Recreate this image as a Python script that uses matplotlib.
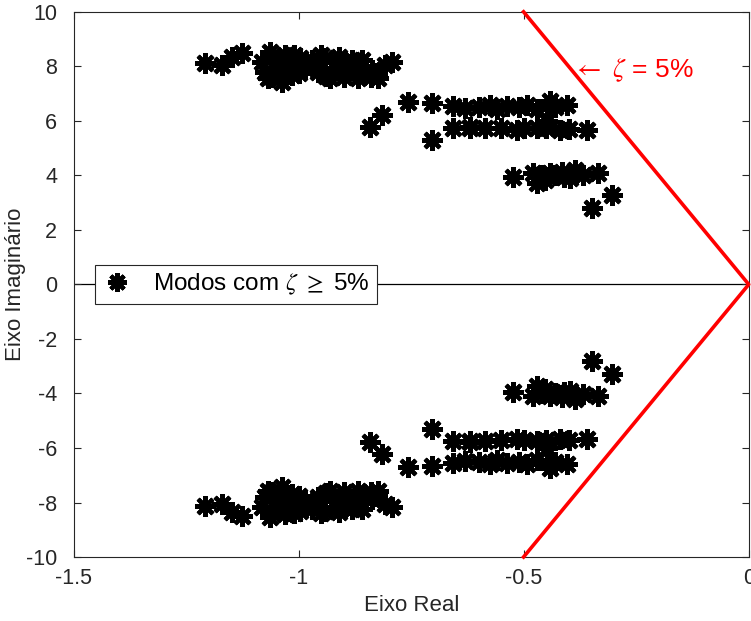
import numpy as np
import matplotlib
matplotlib.use("Agg")
import matplotlib.pyplot as plt

plt.rcParams['font.family'] = ['Liberation Sans', 'DejaVu Sans']
plt.rcParams['mathtext.fontset'] = 'stix'

# modos (parte superior do plano; os conjugados sao desenhados espelhados)
modos_real = [-1.209, -1.171, -1.149, -1.127,
              -1.082, -1.064, -1.047, -1.031, -1.016, -0.998, -0.987, -1.069,
              -1.038, -0.971, -0.958, -0.942, -0.931, -0.913, -0.898, -0.882,
              -0.869, -0.853, -0.838, -0.809, -0.793, -0.824,
              -1.075, -1.050, -1.020, -1.000, -1.060, -1.030, -1.010, -0.990,
              -0.960, -0.940, -0.920, -0.900, -0.890, -0.870, -0.860, -0.840,
              -0.950, -0.910,
              -0.842, -0.816, -0.758, -0.704, -0.704,
              -0.658, -0.658, -0.631, -0.620, -0.576, -0.587, -0.538, -0.516,
              -0.493, -0.471, -0.442, -0.449, -0.404, -0.420, -0.360,
              -0.600, -0.560, -0.510, -0.470, -0.430, -0.620, -0.550, -0.500,
              -0.450, -0.400,
              -0.524, -0.480, -0.471, -0.453, -0.442, -0.416, -0.398, -0.387,
              -0.369, -0.336, -0.304, -0.349, -0.460, -0.430, -0.410]
modos_imag = [8.13, 8.06, 8.35, 8.50,
              8.17, 8.53, 7.87, 8.42, 7.69, 8.31, 7.94, 7.58,
              7.43, 8.24, 7.80, 8.31, 7.58, 8.17, 7.80, 8.24,
              7.58, 7.80, 7.87, 8.06, 8.17, 7.58,
              7.80, 8.20, 8.00, 7.75, 7.60, 7.65, 8.40, 8.10,
              8.00, 7.65, 7.95, 7.60, 8.10, 7.90, 8.25, 7.60,
              8.40, 8.35,
              5.78, 6.22, 6.70, 6.66, 5.30,
              6.55, 5.74, 6.48, 5.74, 6.59, 5.74, 6.55, 5.67,
              6.59, 5.74, 6.73, 6.00, 6.59, 5.67, 5.67,
              6.50, 6.45, 6.50, 6.45, 6.50, 5.78, 5.72, 5.72,
              5.72, 5.70,
              3.94, 4.09, 3.72, 3.83, 4.09, 4.13, 3.90, 4.20,
              4.02, 4.09, 3.28, 2.81, 4.00, 4.00, 3.95]

# limite zeta = 5%
lim_real = [-0.5006, 0.0, -0.5006]
lim_imag = [10.0, 0.0, -10.0]

fig = plt.figure(figsize=(7.51, 6.21), dpi=100)
ax = fig.add_axes([0.0985, 0.103, 0.8985, 0.878])

ax.axhline(0, color='k', linewidth=0.9, zorder=1)

mk = dict(marker=(8, 2, 0), markersize=15, markeredgewidth=3,
          color='k', linestyle='none')
ax.plot(modos_real, modos_imag, label=r'Modos com $\zeta$ $\geq$ 5%', zorder=3, **mk)
ax.plot(modos_real, -np.array(modos_imag), zorder=3, **mk)

ax.plot(lim_real, lim_imag, color='red', linewidth=2.6, zorder=4, clip_on=False)
ax.text(-0.39, 7.85, r'$\leftarrow$ $\zeta$ = 5%', color='red', fontsize=19,
        ha='left', va='center')

ax.set_xlim(-1.5, 0)
ax.set_ylim(-10, 10)
ax.set_xticks([-1.5, -1, -0.5, 0])
ax.set_xticklabels(['-1.5', '-1', '-0.5', '0'])
ax.set_yticks(np.arange(-10, 11, 2))
ax.set_yticklabels([str(v) for v in range(-10, 11, 2)])
ax.tick_params(direction='in', top=True, right=True, labelsize=15.5,
               colors='0.15', length=5, width=0.8)
ax.tick_params(axis='x', pad=8)
ax.tick_params(axis='y', pad=12)
for s in ax.spines.values():
    s.set_color('0.15')
    s.set_linewidth(0.8)

ax.set_xlabel('Eixo Real', fontsize=16, color='0.15', labelpad=4)
ax.set_ylabel('Eixo Imaginário', fontsize=16, color='0.15', labelpad=0)

leg = ax.legend(loc='center left', bbox_to_anchor=(0.031, 0.5), borderaxespad=0,
                fontsize=17.5, fancybox=False, framealpha=1, edgecolor='0.15',
                handlelength=1.2, handletextpad=0.9, borderpad=0.3,
                markerscale=0.9)
leg.get_frame().set_linewidth(0.8)

fig.savefig('out.png', dpi=100)
